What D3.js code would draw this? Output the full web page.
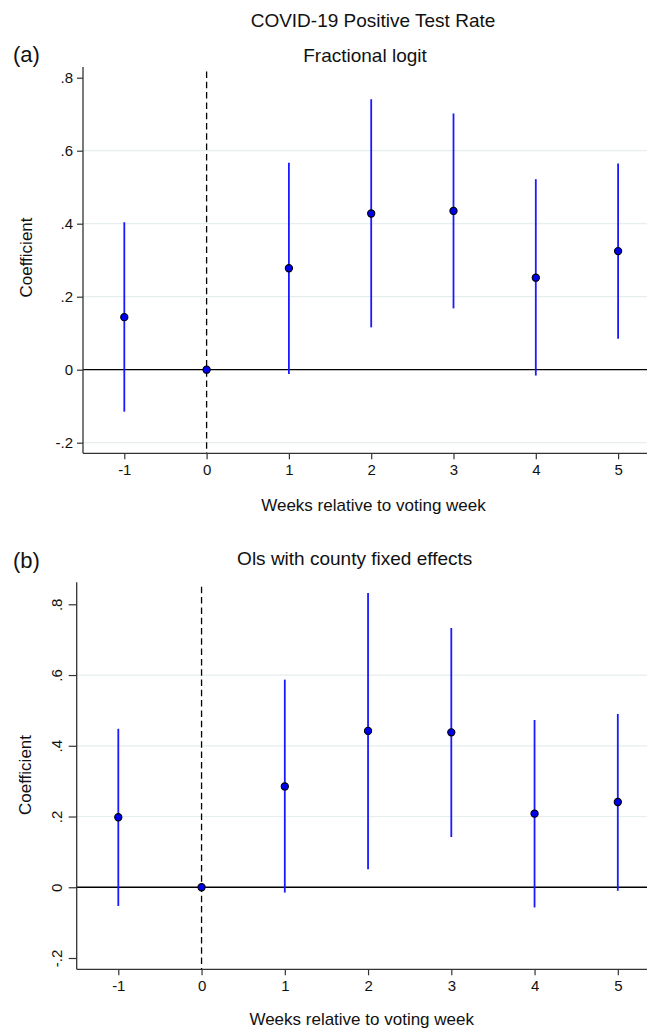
<!DOCTYPE html>
<html>
<head>
<meta charset="utf-8">
<script src="https://cdn.jsdelivr.net/npm/d3@7"></script>
<style>
  html, body { margin: 0; padding: 0; background: #fff; }
  svg { display: block; font-family: "Liberation Sans", Arial, Helvetica, sans-serif; }
</style>
</head>
<body>
<svg id="chart" width="647" height="1029"></svg>
<script>
"use strict";

/* ── Data ── */
const weeks = [-1, 0, 1, 2, 3, 4, 5];
const yTicks = [-0.2, 0, 0.2, 0.4, 0.6, 0.8];

// (a) Fractional logit
const coefA = [0.144, 0, 0.278, 0.428, 0.435, 0.252, 0.325];
const loA   = [-0.115, null, -0.012, 0.116, 0.168, -0.016, 0.085];
const hiA   = [0.404, null, 0.567, 0.741, 0.702, 0.522, 0.565];

// (b) OLS with county fixed effects
const coefB = [0.198, 0, 0.285, 0.442, 0.438, 0.208, 0.241];
const loB   = [-0.053, null, -0.015, 0.051, 0.142, -0.057, -0.010];
const hiB   = [0.448, null, 0.587, 0.832, 0.733, 0.473, 0.490];

const gridA = [-0.2, 0.2, 0.4, 0.6];
const gridB = [0.2, 0.4, 0.6];

const svg = d3.select("#chart");

// Stata-style labels: ".8", "-.2", "0", plain hyphen for negatives
const fmtY = d => {
  if (Math.abs(d) < 1e-9) return "0";
  const s = Math.abs(d).toFixed(1).replace(/^0/, "");
  return (d < 0 ? "-" : "") + s;
};
const fmtX = d => (d < 0 ? "-" : "") + Math.abs(d);

/* ── Overall title ── */
svg.append("text")
  .attr("x", 373).attr("y", 27)
  .attr("text-anchor", "middle")
  .attr("font-size", "19px").attr("fill", "#111")
  .text("COVID-19 Positive Test Rate");

/* ── Panel layout ── */
const panels = [
  {
    tag: "(a)", tagY: 62, subtitle: "Fractional logit", subX: 365, subY: 62,
    coef: coefA, lo: loA, hi: hiA, grid: gridA,
    left: 83, right: 660, top: 67, bottom: 453.3,
    xr: [124.3, 618.1], yr: [442.7, 77.7],
    tickLen: 6, rotateY: false,
    xTitleX: 373.5, xTitleY: 510.7, yTitleY: 257.5, yTitleX: 31.5, xPad: 5
  },
  {
    tag: "(b)", tagY: 568, subtitle: "Ols with county fixed effects", subX: 354.7, subY: 565,
    coef: coefB, lo: loB, hi: hiB, grid: gridB,
    left: 76.7, right: 660, top: 582.3, bottom: 969.3,
    xr: [118.3, 617.8], yr: [958, 604.3],
    tickLen: 8, rotateY: true,
    xTitleX: 361.7, xTitleY: 1025, yTitleY: 775, yTitleX: 31, xPad: 5.5
  }
];

panels.forEach(p => {
  const x = d3.scaleLinear().domain([-1, 5]).range(p.xr);
  const y = d3.scaleLinear().domain([-0.2, 0.8]).range(p.yr);
  const g = svg.append("g");

  /* ── Panel tag and subtitle ── */
  g.append("text")
    .attr("x", 13).attr("y", p.tagY)
    .attr("font-size", "22px").attr("fill", "#111")
    .text(p.tag);
  g.append("text")
    .attr("x", p.subX).attr("y", p.subY)
    .attr("text-anchor", "middle")
    .attr("font-size", "19px").attr("fill", "#111")
    .text(p.subtitle);

  /* ── Gridlines ── */
  g.selectAll(".grid")
    .data(p.grid)
    .join("line")
    .attr("x1", p.left).attr("x2", p.right)
    .attr("y1", d => y(d)).attr("y2", d => y(d))
    .attr("stroke", "#e6eef0").attr("stroke-width", 1.2);

  /* ── Zero line and dashed reference ── */
  g.append("line")
    .attr("x1", p.left).attr("x2", p.right)
    .attr("y1", y(0)).attr("y2", y(0))
    .attr("stroke", "#000").attr("stroke-width", 1.3);
  g.append("line")
    .attr("x1", x(0)).attr("x2", x(0))
    .attr("y1", p.top + 4.5).attr("y2", p.bottom)
    .attr("stroke", "#000").attr("stroke-width", 1.3)
    .attr("stroke-dasharray", "6.5,3.8");

  /* ── Y axis ── */
  const yAxis = g.append("g")
    .attr("transform", `translate(${p.left},0)`)
    .call(d3.axisLeft(y).tickValues(yTicks).tickSize(p.tickLen).tickPadding(4).tickFormat(fmtY))
    .call(a => {
      a.select(".domain").remove();
      a.selectAll(".tick line").attr("stroke", "#333").attr("stroke-width", 1.2);
      a.selectAll(".tick text").attr("fill", "#111").attr("font-size", "15px").attr("font-family", null);
    });
  if (p.rotateY) {
    yAxis.selectAll(".tick text")
      .attr("transform", "rotate(-90)")
      .attr("x", 0).attr("y", -(p.tickLen + 6.7)).attr("dy", 0)
      .attr("text-anchor", "middle");
  }
  g.append("line")
    .attr("x1", p.left).attr("x2", p.left)
    .attr("y1", p.top).attr("y2", p.bottom)
    .attr("stroke", "#333").attr("stroke-width", 1.3);

  /* ── X axis ── */
  g.append("g")
    .attr("transform", `translate(0,${p.bottom})`)
    .call(d3.axisBottom(x).tickValues(weeks).tickSize(6).tickPadding(p.xPad).tickFormat(fmtX))
    .call(a => {
      a.select(".domain").remove();
      a.selectAll(".tick line").attr("stroke", "#333").attr("stroke-width", 1.2);
      a.selectAll(".tick text").attr("fill", "#111").attr("font-size", "15px").attr("font-family", null);
    });
  g.append("line")
    .attr("x1", p.left).attr("x2", p.right)
    .attr("y1", p.bottom).attr("y2", p.bottom)
    .attr("stroke", "#333").attr("stroke-width", 1.3);

  /* ── Axis titles ── */
  g.append("text")
    .attr("x", p.xTitleX).attr("y", p.xTitleY)
    .attr("text-anchor", "middle")
    .attr("font-size", "17px").attr("fill", "#111")
    .text("Weeks relative to voting week");
  g.append("text")
    .attr("transform", `translate(${p.yTitleX},${p.yTitleY}) rotate(-90)`)
    .attr("text-anchor", "middle")
    .attr("font-size", "17px").attr("fill", "#111")
    .text("Coefficient");

  /* ── Confidence intervals ── */
  const rows = weeks.map((w, i) => ({ w, c: p.coef[i], lo: p.lo[i], hi: p.hi[i] }));
  g.selectAll(".ci")
    .data(rows.filter(d => d.lo !== null))
    .join("line")
    .attr("x1", d => x(d.w)).attr("x2", d => x(d.w))
    .attr("y1", d => y(d.lo)).attr("y2", d => y(d.hi))
    .attr("stroke", "#1a1aff").attr("stroke-width", 1.8);

  /* ── Point estimates ── */
  g.selectAll(".pt")
    .data(rows)
    .join("circle")
    .attr("cx", d => x(d.w)).attr("cy", d => y(d.c))
    .attr("r", 3.6)
    .attr("fill", "#0000f0")
    .attr("stroke", "#000").attr("stroke-width", 1.1);
});
</script>
</body>
</html>
